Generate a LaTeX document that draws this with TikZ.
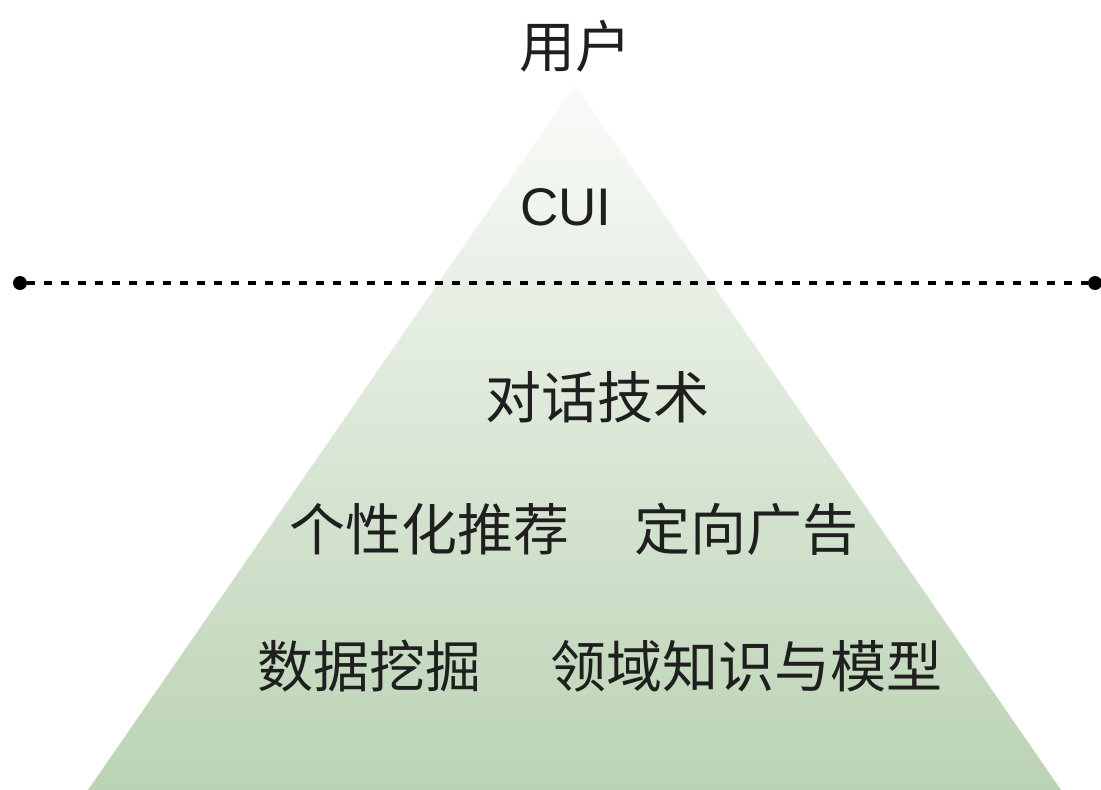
\documentclass[tikz,border=0pt]{standalone}
\usepackage{fontspec}
\newfontfamily\cjk{Noto Sans CJK SC}
\newfontfamily\latinsans{Liberation Sans}
\definecolor{pyrbottom}{RGB}{187,211,180}
\definecolor{pyrtop}{RGB}{250,251,249}
\begin{document}
\begin{tikzpicture}[x=1pt,y=-1pt,
  label/.style={inner sep=0pt, font=\cjk\fontsize{56}{62}\selectfont, text=black!88},
  enddot/.style={circle, fill=black, inner sep=0pt, minimum size=14pt},
  sepline/.style={line width=4pt, dash pattern=on 8pt off 9pt, black}]
\useasboundingbox (0,0) rectangle (1101,790);
% pyramid
\shade[top color=pyrtop, bottom color=pyrbottom] (575,85) -- (1061,790) -- (88,790) -- cycle;
% separator
\node[enddot] (dl) at (20,283) {};
\node[enddot] (dr) at (1095,283) {};
\draw[sepline] (dl.east) -- (dr.west);
% labels
\node[label] (user) at (575,46) {用户};
\node[inner sep=0pt, font=\latinsans\fontsize{53}{60}\selectfont, text=black!88] (cui) at (566,207) {CUI};
\node[label] (dialog) at (597,397) {对话技术};
\node[label] (rec) at (429,529) {个性化推荐};
\node[label] (ad) at (746,529) {定向广告};
\node[label] (mining) at (369,666) {数据挖掘};
\node[label] (domain) at (746,666) {领域知识与模型};
\end{tikzpicture}
\end{document}
